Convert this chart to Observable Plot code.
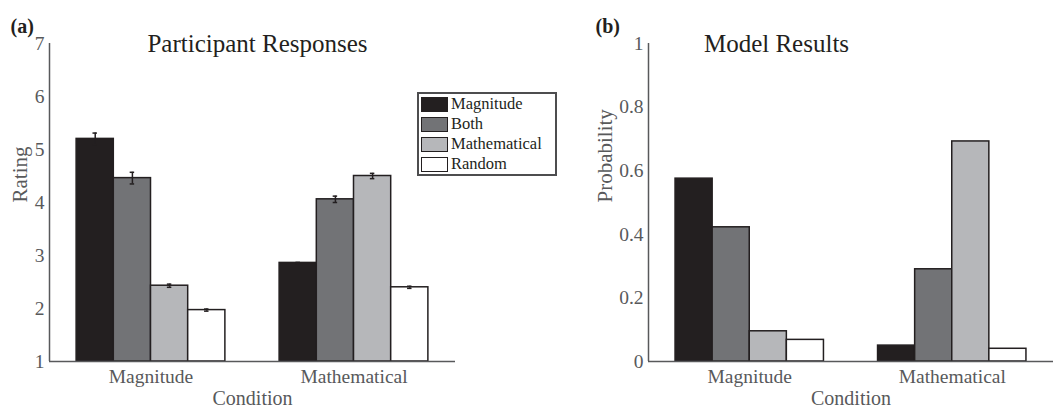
<!DOCTYPE html>
<html>
<head>
<meta charset="utf-8">
<script src="https://cdn.jsdelivr.net/npm/d3@7"></script>
<script src="https://cdn.jsdelivr.net/npm/@observablehq/plot@0.6"></script>
<style>
  body { margin: 0; background: #fff; }
  #wrap { position: relative; width: 1055px; height: 409px; display: flex; overflow: hidden; font-family: "Liberation Serif", "Times New Roman", serif; }
  #legend { position: absolute; left: 417px; top: 92px; width: 134px; padding: 0 0 0 2px; border: 2px solid #4d4d4f; background: #fff; }
  .row { display: flex; align-items: center; height: 20px; }
  .sw { width: 25px; height: 13px; border: 1.5px solid #231f20; margin-right: 3px; }
  .lab { font-size: 16.5px; color: #231f20; line-height: 16px; }
</style>
</head>
<body>
<div id="wrap"></div>
<script>
// ---- data ----
const conditions = ["Magnitude", "Mathematical"];
const responseTypes = ["Magnitude", "Both", "Mathematical", "Random"];
const typeColors = ["#231f20", "#727376", "#b6b7ba", "#ffffff"];
// Participant ratings (panel a)
const ratingMagnitudeCond = [5.20, 4.46, 2.43, 1.97];
const ratingMathematicalCond = [2.86, 4.06, 4.50, 2.40];
const ratingErrMagnitudeCond = [0.11, 0.11, 0.03, 0.02];
const ratingErrMathematicalCond = [0.01, 0.06, 0.05, 0.02];
// Model probabilities (panel b)
const probMagnitudeCond = [0.575, 0.422, 0.095, 0.068];
const probMathematicalCond = [0.05, 0.29, 0.692, 0.04];
const ratingTicks = [1, 2, 3, 4, 5, 6, 7];
const probTicks = [0, 0.2, 0.4, 0.6, 0.8, 1];

// ---- build tables ----
const barW = 0.1832; // bar width in group units
function table(valsByCond, errsByCond) {
  const rows = [];
  valsByCond.forEach((vals, g) => {
    vals.forEach((v, k) => {
      const x1 = g + (k - 2) * barW;
      rows.push({condition: conditions[g], type: responseTypes[k], value: v,
        err: errsByCond ? errsByCond[g][k] : 0, x1, x2: x1 + barW, xc: x1 + barW / 2});
    });
  });
  return rows;
}
const dataA = table([ratingMagnitudeCond, ratingMathematicalCond], [ratingErrMagnitudeCond, ratingErrMathematicalCond]);
const dataB = table([probMagnitudeCond, probMathematicalCond], null);

const gray = "#58595b";
const ink = "#231f20";
const font = "Liberation Serif, Times New Roman, serif";

function panel({data, width, marginLeft, marginRight, yDomain, yTicks, yFmt, yLabel, yLabelDx, title, titleDx, tag, tagDx, errors}) {
  const y0 = yDomain[0];
  const marks = [
    Plot.rect(data, {x1: "x1", x2: "x2", y1: () => y0, y2: "value", fill: "type", stroke: ink, strokeWidth: 1.5}),
  ];
  if (errors) {
    const capW = 0.011;
    marks.push(
      Plot.ruleX(data, {x: "xc", y1: d => d.value - d.err, y2: d => d.value + d.err, stroke: ink, strokeWidth: 1.5}),
      Plot.ruleY(data, {y: d => d.value + d.err, x1: d => d.xc - capW, x2: d => d.xc + capW, stroke: ink, strokeWidth: 1.5}),
      Plot.ruleY(data, {y: d => d.value - d.err, x1: d => d.xc - capW, x2: d => d.xc + capW, stroke: ink, strokeWidth: 1.5})
    );
  }
  marks.push(
    Plot.ruleY([y0], {stroke: gray, strokeWidth: 1.5}),
    Plot.ruleX([-0.5], {stroke: gray, strokeWidth: 1.5}),
    Plot.text([yLabel], {frameAnchor: "left", lineAnchor: "middle", rotate: -90, dx: yLabelDx, fill: gray, fontSize: 21, fontFamily: font}),
    Plot.text(["Condition"], {frameAnchor: "bottom", lineAnchor: "middle", dy: 37, fill: gray, fontSize: 20, fontFamily: font}),
    Plot.text([title], {frameAnchor: "top-left", lineAnchor: "middle", dx: titleDx, dy: 0, textAnchor: "middle", fill: ink, fontSize: 25, fontFamily: font}),
    Plot.text([tag], {frameAnchor: "top-left", lineAnchor: "middle", dx: tagDx, dy: -17, textAnchor: "start", fill: ink, fontSize: 20, fontWeight: "bold", fontFamily: font})
  );
  return Plot.plot({
    width, height: 409,
    marginLeft, marginRight, marginTop: 43, marginBottom: 48,
    style: {fontFamily: font, fontSize: "19.5px", color: gray, background: "transparent", overflow: "visible"},
    x: {domain: [-0.5, 1.5], ticks: [0, 1], tickFormat: i => conditions[i], tickSize: 0, tickPadding: 8, label: null},
    y: {domain: yDomain, ticks: yTicks, tickFormat: yFmt, tickSize: 0, tickPadding: 5, label: null},
    color: {domain: responseTypes, range: typeColors},
    marks
  });
}

const wrap = document.getElementById("wrap");
wrap.appendChild(panel({
  data: dataA, width: 530, marginLeft: 49, marginRight: 75,
  yDomain: [1, 7], yTicks: ratingTicks, yFmt: d => String(d), yLabel: "Rating", yLabelDx: -29,
  title: "Participant Responses", titleDx: 208, tag: "(a)", tagDx: -39, errors: true
}));
wrap.appendChild(panel({
  data: dataB, width: 525, marginLeft: 118, marginRight: 2,
  yDomain: [0, 1], yTicks: probTicks, yFmt: d => String(Math.round(d * 10) / 10), yLabel: "Probability", yLabelDx: -43,
  title: "Model Results", titleDx: 128, tag: "(b)", tagDx: -53, errors: false
}));

// legend built from the series arrays
const legend = document.createElement("div");
legend.id = "legend";
responseTypes.forEach((t, i) => {
  const row = document.createElement("div");
  row.className = "row";
  const sw = document.createElement("div");
  sw.className = "sw";
  sw.style.background = typeColors[i];
  const lab = document.createElement("span");
  lab.className = "lab";
  lab.textContent = t;
  row.appendChild(sw); row.appendChild(lab);
  legend.appendChild(row);
});
wrap.appendChild(legend);
</script>
</body>
</html>
